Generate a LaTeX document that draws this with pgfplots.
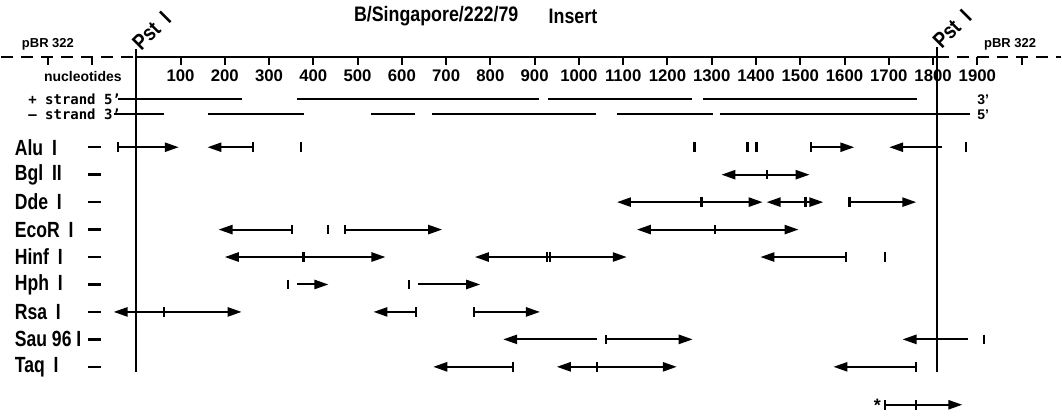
\documentclass[border=0pt]{standalone}
\usepackage{pgfplots}
\pgfplotsset{compat=1.18}
\usetikzlibrary{arrows.meta}
\usepackage{fontspec}
\setmainfont{Liberation Sans}
\newfontfamily\cond[FakeStretch=0.85]{Liberation Sans}
\newfontfamily\condb[FakeStretch=0.8]{Liberation Sans}
\newfontfamily\mono{DejaVu Sans Mono}
\newcommand\rA[3]{\addplot[arr] coordinates {(#1,#3) (#2,#3)};}
\newcommand\rD[3]{\addplot[darr] coordinates {(#1,#3) (#2,#3)};}
\newcommand\rT[2]{\addplot[tk] coordinates {(#1,#2)};}
\newcommand\rS[3]{\addplot[seg] coordinates {(#1,#3) (#2,#3)};}
\newcommand\rL[3]{\addplot[strand] coordinates {(#1,#3) (#2,#3)};}
\newcommand\rowlab[2]{\node[anchor=west,inner sep=0pt,font=\fontsize{11}{12}\condb\bfseries] at (axis cs:-275,#2) {#1};}
\newcommand\ticklab[1]{\node[font=\fontsize{8.4}{10}\bfseries] at (axis cs:#1,73) {#1};}
\begin{document}
\begin{tikzpicture}
\begin{axis}[
  scale only axis, width=531pt, height=207pt,
  xmin=-305.5, xmax=2089, ymin=0, ymax=414, y dir=reverse,
  hide axis, clip=false,
  arr/.style={line width=1pt, -{Triangle[length=7pt,width=4.6pt]}},
  darr/.style={line width=1pt, {Triangle[length=7pt,width=4.6pt]}-{Triangle[length=7pt,width=4.6pt]}},
  tk/.style={only marks, mark=|, mark size=2.4pt, mark options={line width=1.1pt}},
  seg/.style={line width=1.2pt},
  strand/.style={line width=1pt},
]
\addplot[draw=none] coordinates {(-305.5,0) (2089,414)};
% title
\node[font=\fontsize{10.5}{12}\cond\bfseries] at (axis cs:677.6,14) {B/Singapore/222/79};
\node[font=\fontsize{10.5}{12}\cond\bfseries] at (axis cs:986.5,14) {Insert};
% Pst I labels
\node[anchor=south west, rotate=45, inner sep=0pt, font=\fontsize{11}{12}\cond\bfseries] at (axis cs:12,50) {Pst\hspace{5pt}I};
\node[anchor=south west, rotate=45, inner sep=0pt, font=\fontsize{11}{12}\cond\bfseries] at (axis cs:1820,48) {Pst\hspace{5pt}I};
% pBR 322
\node[font=\fontsize{6.5}{8}\bfseries] at (axis cs:-199.5,42) {pBR 322};
\node[font=\fontsize{6.5}{8}\bfseries] at (axis cs:1974,42) {pBR 322};
% ruler
\addplot[line width=1pt] coordinates {(0,55) (1808,55)};
\addplot[line width=1pt, dash pattern=on 6pt off 4pt] coordinates {(-305.5,55) (0,55)};
\addplot[line width=1pt, dash pattern=on 6pt off 4pt] coordinates {(1808,55) (2089,55)};
\pgfplotsinvokeforeach{-200,-100,100,200,300,400,500,600,700,800,900,1000,1100,1200,1300,1400,1500,1600,1700,1800,1900,2000}{
  \addplot[line width=1pt] coordinates {(#1,55) (#1,63)};
}
\ticklab{100}\ticklab{200}\ticklab{300}\ticklab{400}\ticklab{500}\ticklab{600}
\ticklab{700}\ticklab{800}\ticklab{900}\ticklab{1000}\ticklab{1100}\ticklab{1200}
\ticklab{1300}\ticklab{1400}\ticklab{1500}\ticklab{1600}\ticklab{1700}\ticklab{1800}\ticklab{1900}
\node[font=\fontsize{7}{8}\bfseries] at (axis cs:-120.6,74) {nucleotides};
% strands
\node[anchor=west, inner sep=0pt, font=\fontsize{7}{8}\mono\bfseries] at (axis cs:-244.6,97) {+ strand 5\textquoteright};
\node[anchor=west, inner sep=0pt, font=\fontsize{7}{8}\mono\bfseries] at (axis cs:-244.6,112) {\textendash{} strand 3\textquoteright};
\node[font=\fontsize{7}{8}\bfseries] at (axis cs:1913,97) {3\textquoteright};
\node[font=\fontsize{7}{8}\bfseries] at (axis cs:1913,112) {5\textquoteright};
\rL{-42}{238}{97}\rL{364}{909}{97}\rL{930}{1255}{97}\rL{1280}{1764}{97}
\rL{-50}{62}{112}\rL{161}{378}{112}\rL{531}{630}{112}\rL{669}{1038}{112}\rL{1086}{1302}{112}\rL{1318}{1884}{112}
% Pst I vertical lines
\addplot[line width=1.1pt] coordinates {(0,47) (0,370)};
\addplot[line width=1.1pt] coordinates {(1808,45) (1808,370)};
% row labels and dashes
\rowlab{Alu\hspace{2pt} I}{145}
\rowlab{Bgl\hspace{2pt} II}{172.5}
\rowlab{Dde\hspace{2pt} I}{200}
\rowlab{EcoR\hspace{2pt} I}{227.5}
\rowlab{Hinf\hspace{2pt} I}{255}
\rowlab{Hph\hspace{2pt} I}{282.5}
\rowlab{Rsa\hspace{2pt} I}{310}
\rowlab{Sau 96 I}{337.5}
\rowlab{Taq\hspace{2pt} I}{365}
\rS{-109}{-80}{145}\rS{-109}{-80}{172.5}\rS{-109}{-80}{200}\rS{-109}{-80}{227.5}\rS{-109}{-80}{255}
\rS{-109}{-80}{282.5}\rS{-109}{-80}{310}\rS{-109}{-80}{337.5}\rS{-109}{-80}{365}
% Alu I
\rA{-42}{96}{145}\rT{-42}{145}
\rA{263}{161}{145}\rT{263}{145}
\rT{373}{145}\rT{1261}{145}\rT{1381}{145}\rT{1401}{145}
\rA{1525}{1622}{145}\rT{1525}{145}
\rA{1821}{1701}{145}
\rT{1875}{145}
% Bgl II
\rD{1322}{1521}{172.5}\rT{1424}{172.5}
% Dde I
\rD{1086}{1415}{200}\rT{1277}{200}
\rD{1424}{1552}{200}\rT{1512}{200}
\rA{1611}{1762}{200}\rT{1611}{200}
% EcoR I
\rA{351}{186}{227.5}\rT{351}{227.5}
\rT{434}{227.5}
\rA{472}{691}{227.5}\rT{472}{227.5}
\rD{1131}{1496}{227.5}\rT{1307}{227.5}
% Hinf I
\rD{200}{563}{255}\rT{378}{255}
\rD{765}{1108}{255}\rT{928}{255}\rT{935}{255}
\rA{1604}{1410}{255}\rT{1604}{255}
\rT{1692}{255}
% Hph I
\rT{342}{282.5}\rA{364}{434}{282.5}
\rT{617}{282.5}\rA{637}{777}{282.5}
% Rsa I
\rD{-51}{238}{310}\rT{62}{310}
\rA{632}{536}{310}\rT{632}{310}
\rA{763}{912}{310}\rT{763}{310}
% Sau 96 I
\rA{1041}{829}{337.5}
\rA{1061}{1257}{337.5}\rT{1061}{337.5}
\rA{1879}{1731}{337.5}
\rT{1915}{337.5}
% Taq I
\rA{851}{671}{365}\rT{851}{365}
\rD{950}{1221}{365}\rT{1041}{365}
\rA{1762}{1575}{365}\rT{1762}{365}
% bottom
\node[font=\fontsize{9}{10}\bfseries] at (axis cs:1674,404) {*};
\rA{1692}{1866}{403}\rT{1692}{403}\rT{1762}{403}
\end{axis}
\end{tikzpicture}
\end{document}
